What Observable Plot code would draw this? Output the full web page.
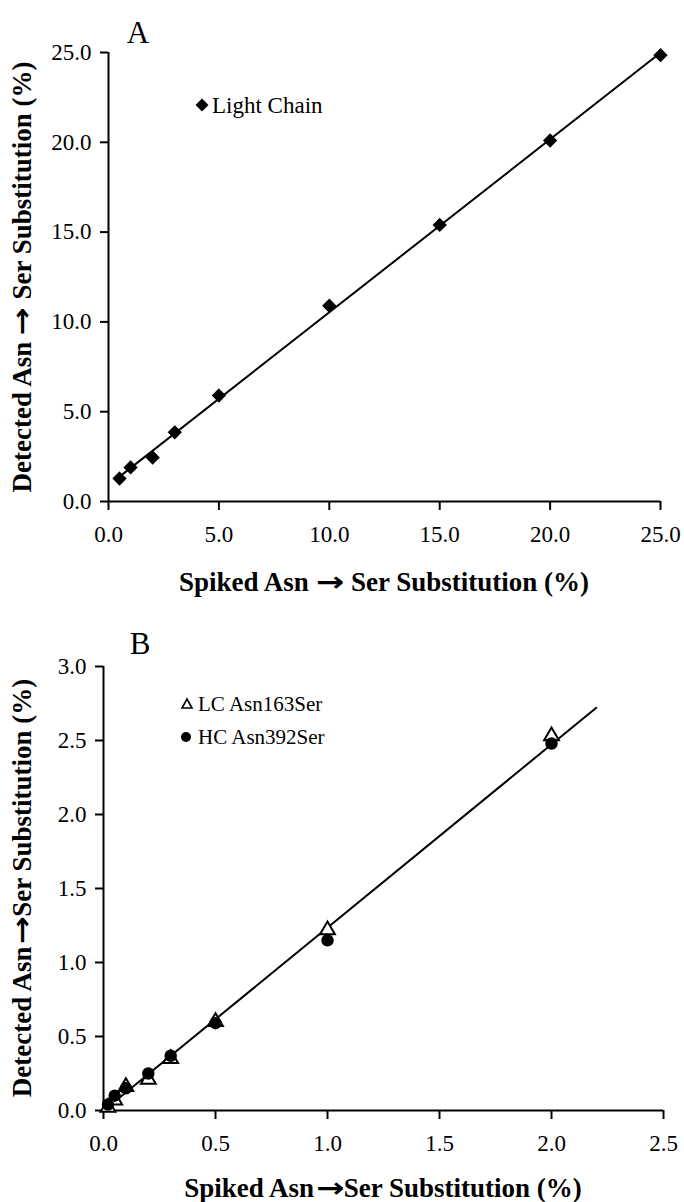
<!DOCTYPE html>
<html><head><meta charset="utf-8">
<script src="https://cdn.jsdelivr.net/npm/d3@7"></script>
<script src="https://cdn.jsdelivr.net/npm/@observablehq/plot@0.6"></script>
<style>
body{margin:0;background:#fff;}
#wrap{position:relative;width:684px;height:1202px;font-family:"Liberation Serif","Times New Roman",serif;color:#000;overflow:hidden;}
.abs{position:absolute;white-space:nowrap;line-height:1;}
.title{font-weight:bold;font-size:27px;}
.arrow{font-family:"DejaVu Sans",sans-serif;font-weight:bold;display:inline-block;transform:scaleX(1.25);margin:0 3px;}
.arrowTight{font-family:"DejaVu Sans",sans-serif;font-weight:bold;display:inline-block;transform:scaleX(1.25);margin:0 2px 0 5px;}
.ytitle{transform:translate(-50%,-50%) rotate(-90deg);}
.xtitle{transform:translate(-50%,-50%);}
.letter{font-size:31px;transform:translate(-50%,-50%);}
.legend{font-size:23px;transform:translate(0,-50%);}
.legendB{font-size:21px;transform:translate(0,-50%);}
.sw{position:absolute;transform:translate(-50%,-50%);}
.panel{position:absolute;left:0;}
</style></head>
<body><div id="wrap"></div>
<script>
// Panel A: Light chain
const spikedA = [0.5, 1, 2, 3, 5, 10, 15, 20, 25];
const detectedA = [1.28, 1.9, 2.45, 3.85, 5.9, 10.9, 15.4, 20.1, 24.85];
const ticksA = [0, 5, 10, 15, 20, 25];

// Panel B: LC Asn163Ser, HC Asn392Ser
const spikedB = [0.02, 0.05, 0.1, 0.2, 0.3, 0.5, 1.0, 2.0];
const detectedLC = [0.02, 0.07, 0.16, 0.21, 0.35, 0.60, 1.22, 2.53];
const detectedHC = [0.04, 0.10, 0.15, 0.25, 0.37, 0.59, 1.15, 2.48];
const ticksBx = [0, 0.5, 1, 1.5, 2, 2.5];
const ticksBy = [0, 0.5, 1, 1.5, 2, 2.5, 3];
const trendRangeB = [0, 2.2];

const dataA = spikedA.map((x, i) => ({x, y: detectedA[i]}));
const dataLC = spikedB.map((x, i) => ({x, y: detectedLC[i]}));
const dataHC = spikedB.map((x, i) => ({x, y: detectedHC[i]}));

// least squares trend on both series
const all = dataLC.concat(dataHC);
const mx = d3.mean(all, d => d.x), my = d3.mean(all, d => d.y);
const slope = d3.sum(all, d => (d.x - mx) * (d.y - my)) / d3.sum(all, d => (d.x - mx) ** 2);
const icpt = my - slope * mx;
const trendB = trendRangeB.map(x => ({x, y: icpt + slope * x}));

const fmt = d3.format(".1f");
const font = {fontFamily: "Liberation Serif, serif", fontSize: "23px", color: "#000", background: "transparent", overflow: "visible"};

const plotA = Plot.plot({
  width: 684, height: 600,
  marginLeft: 108, marginRight: 24, marginTop: 52, marginBottom: 99,
  x: {domain: [0, 25]}, y: {domain: [0, 25]},
  style: font,
  marks: [
    Plot.axisX({ticks: ticksA, tickFormat: fmt, tickSize: 9, tickPadding: 15, strokeWidth: 2, label: null, fill: "#000"}),
    Plot.axisY({ticks: ticksA, tickFormat: fmt, tickSize: 8, tickPadding: 9, strokeWidth: 2, label: null, fill: "#000"}),
    Plot.ruleX([0], {strokeWidth: 2, stroke: "#000"}),
    Plot.ruleY([0], {strokeWidth: 2, stroke: "#000"}),
    Plot.linearRegressionY(dataA, {x: "x", y: "y", ci: 0, stroke: "#000", strokeWidth: 2}),
    Plot.dot(dataA, {x: "x", y: "y", symbol: "diamond2", fill: "#000", stroke: "#000", r: 5.5})
  ]
});

const plotB = Plot.plot({
  width: 684, height: 602,
  marginLeft: 103, marginRight: 21, marginTop: 66, marginBottom: 92,
  x: {domain: [0, 2.5]}, y: {domain: [0, 3]},
  style: font,
  marks: [
    Plot.axisX({ticks: ticksBx, tickFormat: fmt, tickSize: 9, tickPadding: 15, strokeWidth: 2, label: null, fill: "#000"}),
    Plot.axisY({ticks: ticksBy, tickFormat: fmt, tickSize: 8, tickPadding: 9, strokeWidth: 2, label: null, fill: "#000"}),
    Plot.ruleX([0], {strokeWidth: 2, stroke: "#000"}),
    Plot.ruleY([0], {strokeWidth: 2, stroke: "#000"}),
    Plot.line(trendB, {x: "x", y: "y", stroke: "#000", strokeWidth: 2}),
    Plot.dot(dataLC, {x: "x", y: "y", symbol: "triangle", fill: "#fff", stroke: "#000", strokeWidth: 2, r: 5.5}),
    Plot.dot(dataHC, {x: "x", y: "y", symbol: "circle", fill: "#000", stroke: "#000", r: 5.5})
  ]
});

const wrap = document.getElementById("wrap");
plotA.classList.add("panel"); plotA.style.top = "0px";
plotB.classList.add("panel"); plotB.style.top = "600px";
wrap.appendChild(plotA);
wrap.appendChild(plotB);

function addText(cls, parts, left, top) {
  const d = document.createElement("div");
  d.className = "abs " + cls;
  for (const p of [].concat(parts)) {
    if (typeof p === "string") d.appendChild(document.createTextNode(p));
    else { const s = document.createElement("span"); s.className = p.cls; s.textContent = p.t; d.appendChild(s); }
  }
  d.style.left = left + "px"; d.style.top = top + "px";
  wrap.appendChild(d);
}
function addSwatch(svgInner, left, top) {
  const d = document.createElement("div");
  d.className = "sw";
  d.style.left = left + "px"; d.style.top = top + "px";
  d.innerHTML = '<svg width="16" height="16" viewBox="-8 -8 16 16" style="display:block">' + svgInner + '</svg>';
  wrap.appendChild(d);
}
const arr = {cls: "arrow", t: "\u2192"};
const arrT = {cls: "arrowTight", t: "\u2192"};

addText("letter", "A", 138, 32);
addText("title ytitle", ["Detected Asn ", arr, " Ser Substitution (%)"], 22, 277);
addText("title xtitle", ["Spiked Asn ", arr, " Ser Substitution (%)"], 384, 582);
addSwatch('<path d="M0,-6.5L6.5,0L0,6.5L-6.5,0Z" fill="#000"/>', 202, 105);
addText("legend", "Light Chain", 212, 105);

addText("letter", "B", 140, 643);
addText("title ytitle", ["Detected Asn", arrT, "Ser Substitution (%)"], 22, 888);
addText("title xtitle", ["Spiked Asn", arrT, "Ser Substitution (%)"], 383, 1188);
addSwatch('<path d="M0,-5L5,4L-5,4Z" fill="#fff" stroke="#000" stroke-width="1.6"/>', 187, 704);
addText("legendB", "LC Asn163Ser", 198, 704);
addSwatch('<circle r="5" fill="#000"/>', 186, 737);
addText("legendB", "HC Asn392Ser", 198, 737);
</script>
</body></html>
